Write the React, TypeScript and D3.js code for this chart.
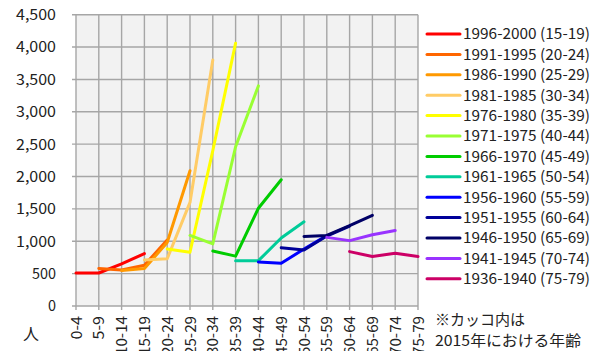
import React from "react";
import * as d3 from "d3";

// Age groups on the x axis
const ageGroups = [
  "0-4", "5-9", "10-14", "15-19", "20-24", "25-29", "30-34", "35-39",
  "40-44", "45-49", "50-54", "55-59", "60-64", "65-69", "70-74", "75-79",
];

// Birth cohorts (age in 2015 in parentheses)
const cohortNames = [
  "1996-2000 (15-19)", "1991-1995 (20-24)", "1986-1990 (25-29)", "1981-1985 (30-34)",
  "1976-1980 (35-39)", "1971-1975 (40-44)", "1966-1970 (45-49)", "1961-1965 (50-54)",
  "1956-1960 (55-59)", "1951-1955 (60-64)", "1946-1950 (65-69)", "1941-1945 (70-74)",
  "1936-1940 (75-79)",
];

// Index of the first age group each cohort is observed at
const cohortFirstAge = [0, 1, 2, 3, 4, 5, 6, 7, 8, 9, 10, 11, 12];

// Population (persons) per cohort across four consecutive census years
const c1996 = [510, 510, 650, 810];
const c1991 = [580, 555, 630, 1020];
const c1986 = [550, 580, 980, 2090];
const c1981 = [710, 730, 1600, 3800];
const c1976 = [880, 830, 2400, 4060];
const c1971 = [1090, 960, 2460, 3400];
const c1966 = [850, 770, 1510, 1950];
const c1961 = [700, 700, 1050, 1300];
const c1956 = [680, 660, 880, 1090];
const c1951 = [900, 865, 1080, 1235];
const c1946 = [1075, 1090, 1240, 1400];
const c1941 = [1060, 1010, 1100, 1165];
const c1936 = [840, 765, 815, 765];

const cohortValues = [c1996, c1991, c1986, c1981, c1976, c1971, c1966, c1961, c1956, c1951, c1946, c1941, c1936];

const cohortColors = [
  "#FF0000", "#FF6600", "#FF9900", "#FFCC66", "#FFFF00", "#99FF33", "#00CC00",
  "#00CC99", "#0000FF", "#000099", "#000066", "#9933FF", "#CC0066",
];

const yTicks = [0, 500, 1000, 1500, 2000, 2500, 3000, 3500, 4000, 4500];

const FONT = "'Noto Sans CJK JP', 'Noto Sans', sans-serif";

export default function App() {
  const W = 602;
  const H = 351;
  const left = 76;
  const right = 418;
  const top = 14.7;
  const bottom = 306;

  const x = d3.scalePoint<string>().domain(ageGroups).range([left, right]);
  const y = d3.scaleLinear().domain([0, 4500]).range([bottom, top]);
  const fmt = d3.format(",");

  const line = d3
    .line<[string, number]>()
    .x((d) => x(d[0]) as number)
    .y((d) => y(d[1]));

  return (
    <svg
      width={W}
      height={H}
      style={{ position: "absolute", left: 0, top: 0, background: "#fff" }}
      fontFamily={FONT}
    >
      {/* plot area */}
      <rect x={left} y={top} width={right - left} height={bottom - top} fill="#F2F2F2" />
      {yTicks.map((t) => (
        <line key={"gy" + t} x1={left - 4} x2={right} y1={y(t)} y2={y(t)} stroke="#A6A6A6" strokeWidth={1.4} />
      ))}
      {ageGroups.map((a) => (
        <line key={"gx" + a} x1={x(a)} x2={x(a)} y1={top} y2={bottom + 4} stroke="#A6A6A6" strokeWidth={1.4} />
      ))}

      {/* y axis labels */}
      {yTicks.map((t) => {
        const s = fmt(t);
        return (
          <text
            key={"ly" + t}
            x={56}
            y={y(t)}
            dy="0.36em"
            textAnchor="end"
            fontSize={15}
            fill="#222"
            textLength={s.length * 8}
            lengthAdjust="spacingAndGlyphs"
          >
            {s}
          </text>
        );
      })}

      {/* x axis labels, rotated */}
      {ageGroups.map((a) => (
        <text
          key={"lx" + a}
          transform={`translate(${(x(a) as number) + 5.5},316) rotate(-90)`}
          textAnchor="end"
          fontSize={15}
          fill="#222"
          textLength={a.length * 7.8}
          lengthAdjust="spacingAndGlyphs"
        >
          {a}
        </text>
      ))}

      <text x={31} y={334} dy="0.36em" textAnchor="middle" fontSize={16} fill="#222">人</text>

      {/* cohort lines */}
      {cohortValues.map((vals, i) => {
        const pts: [string, number][] = vals.map((v, j) => [ageGroups[cohortFirstAge[i] + j], v]);
        return (
          <path
            key={"s" + i}
            d={line(pts) || ""}
            fill="none"
            stroke={cohortColors[i]}
            strokeWidth={3}
            strokeLinejoin="round"
            strokeLinecap="round"
          />
        );
      })}

      {/* legend */}
      {cohortNames.map((name, i) => {
        const cy = 34 + i * 20.4;
        return (
          <g key={"lg" + i}>
            <line x1={427} x2={460} y1={cy} y2={cy} stroke={cohortColors[i]} strokeWidth={3} strokeLinecap="round" />
            <text x={463} y={cy} dy="0.36em" fontSize={15} fill="#222" textLength={127} lengthAdjust="spacingAndGlyphs">
              {name}
            </text>
          </g>
        );
      })}

      <text x={435} y={320} dy="0.36em" fontSize={15} fill="#222">※カッコ内は</text>
      <text x={435} y={341} dy="0.36em" fontSize={15} fill="#222" textLength={146} lengthAdjust="spacingAndGlyphs">
        2015年における年齢
      </text>
    </svg>
  );
}
